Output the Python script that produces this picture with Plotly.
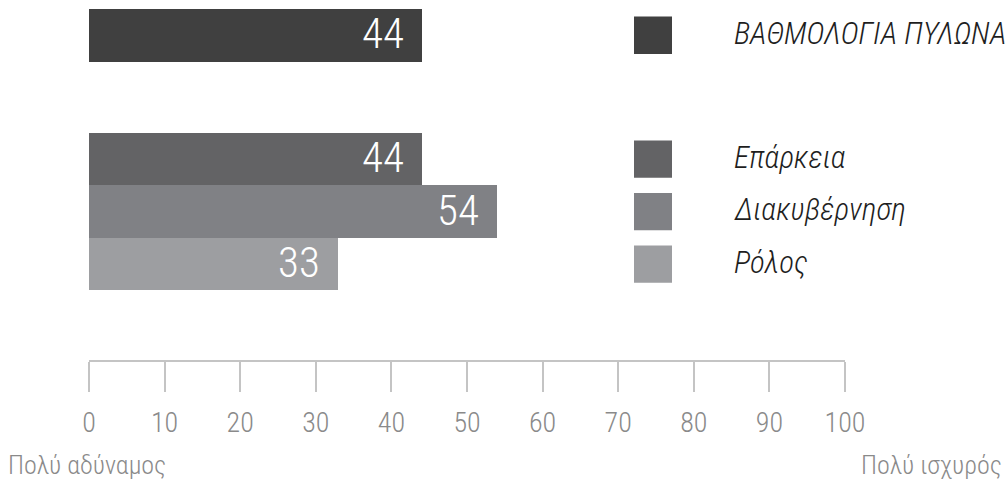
import plotly.graph_objects as go

categories = ["ΒΑΘΜΟΛΟΓΙΑ ΠΥΛΩΝΑ", "Επάρκεια", "Διακυβέρνηση", "Ρόλος"]
values = [44, 44, 54, 33]
tick_values = [0, 10, 20, 30, 40, 50, 60, 70, 80, 90, 100]
scale_low = "Πολύ αδύναμος"
scale_high = "Πολύ ισχυρός"

# layout (styles / positions)
colors = ["#404040", "#636365", "#808185", "#9d9ea1"]
slots = [0.0, 2.36, 3.36, 4.36]
FONT = "Roboto Condensed, Roboto, sans-serif"
W, H = 1008, 484
ML, MR, MT, MB = 89, 163, 0, 124
plot_w = W - ML - MR
plot_h = H - MT - MB

fig = go.Figure()
fig.add_trace(go.Bar(
    x=values, y=slots, orientation="h", width=1.0,
    marker=dict(color=colors, line=dict(width=0)),
    hoverinfo="skip", showlegend=False,
))

annotations = []
shapes = []
for cat, v, s, c in zip(categories, values, slots, colors):
    annotations.append(dict(
        x=v, y=s, xref="x", yref="y", text=str(v), showarrow=False,
        xanchor="right", yanchor="middle", xshift=-16, yshift=2,
        font=dict(family=FONT, size=43, color="white", weight=300),
    ))
    shapes.append(dict(
        type="rect", xref="paper", yref="y",
        x0=(634 - ML) / plot_w, x1=(672 - ML) / plot_w,
        y0=s - 0.355, y1=s + 0.355,
        fillcolor=c, line=dict(width=0),
    ))
    annotations.append(dict(
        x=(732 - ML) / plot_w, y=s, xref="paper", yref="y", text=f"<i>{cat}</i>",
        showarrow=False, xanchor="left", yanchor="middle", yshift=2,
        font=dict(family=FONT, size=31, color="#1e1e1e", weight=300),
    ))

annotations.append(dict(
    x=(6 - ML) / plot_w, y=(plot_h - 465) / plot_h, xref="paper", yref="paper",
    text=scale_low, showarrow=False, xanchor="left", yanchor="middle",
    font=dict(family=FONT, size=26, color="#8a8a8a", weight=300),
))
annotations.append(dict(
    x=(1004 - ML) / plot_w, y=(plot_h - 465) / plot_h, xref="paper", yref="paper",
    text=scale_high, showarrow=False, xanchor="right", yanchor="middle",
    font=dict(family=FONT, size=26, color="#8a8a8a", weight=300),
))

bar_px = 52.5
top_units = 9 / bar_px + 0.5
fig.update_layout(
    width=W, height=H,
    margin=dict(l=ML, r=MR, t=MT, b=MB, pad=0),
    plot_bgcolor="white", paper_bgcolor="white",
    bargap=0,
    xaxis=dict(
        range=[0, 100], tickvals=tick_values, showgrid=False, zeroline=False,
        showline=True, linecolor="#c4c4c4", linewidth=2,
        ticks="outside", ticklen=30, tickwidth=1.5, tickcolor="#c4c4c4",
        tickfont=dict(family=FONT, size=28, color="#8a8a8a", weight=300),
        ticklabelstandoff=6, fixedrange=True,
    ),
    yaxis=dict(
        range=[-top_units + plot_h / bar_px, -top_units], showgrid=False,
        zeroline=False, showticklabels=False, showline=False, fixedrange=True,
    ),
    annotations=annotations, shapes=shapes,
)

fig.write_html("out.html", config={"displayModeBar": False})
